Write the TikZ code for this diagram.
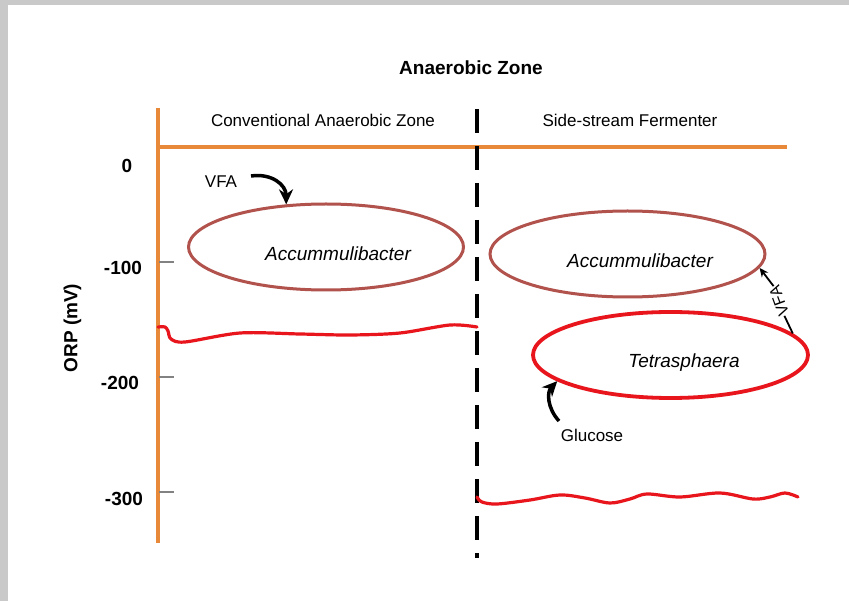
\documentclass[tikz,border=0pt]{standalone}
\usepackage{fontspec}
\setmainfont{Liberation Sans}
\usetikzlibrary{shapes.geometric,arrows.meta}
\definecolor{framegray}{RGB}{200,201,200}
\definecolor{axisorange}{RGB}{232,137,58}
\definecolor{brownred}{RGB}{178,82,76}
\definecolor{brightred}{RGB}{232,22,28}
\definecolor{tickgray}{RGB}{130,130,130}
\newcommand\myfs[1]{\fontsize{#1}{#1}\selectfont}
\tikzset{
  axisline/.style={axisorange, line width=3.2pt},
  tickline/.style={tickgray, line width=1.8pt},
  zoneline/.style={black, line width=3.2pt, dash pattern=on 24pt off 13pt},
  cellA/.style={ellipse, draw=brownred, line width=3pt, minimum width=275pt, minimum height=86pt, inner sep=0pt},
  cellT/.style={ellipse, draw=brightred, line width=3.8pt, minimum width=275pt, minimum height=86pt, inner sep=0pt},
  orpline/.style={brightred, line width=3.2pt, line cap=round, line join=round},
  bigarrow/.style={line width=3.5pt, -{Stealth[length=15pt,width=14pt]}},
  smallarrow/.style={line width=1.8pt, -{Stealth[length=9pt,width=8pt]}},
  lbl/.style={font=\myfs{17}, inner sep=0pt, anchor=base},
  ticklbl/.style={font=\bfseries\myfs{19}, inner sep=0pt, anchor=base},
  celllbl/.style={font=\itshape\myfs{19}, inner sep=0pt, anchor=base},
}
\begin{document}
\begin{tikzpicture}[x=1pt,y=-1pt]
\useasboundingbox (0,0) rectangle (849,601);
\fill[framegray] (0,0) rectangle (849,601);
\fill[white] (8,5) rectangle (849,601);

% title and zone labels
\node[font=\bfseries\myfs{19}, inner sep=0pt, anchor=base] (title) at (471,75) {Anaerobic Zone};
\node[lbl] (conv) at (323,127) {Conventional Anaerobic Zone};
\node[lbl] (side) at (630,127) {Side-stream Fermenter};

% axes
\draw[axisline] (158,108) -- (158,543);
\draw[axisline] (157,147) -- (787,147);
\draw[tickline] (159,262) -- (174,262);
\draw[tickline] (159,377) -- (174,377);
\draw[tickline] (159,492) -- (174,492);
\node[ticklbl] (t0) at (127,173) {0};
\node[ticklbl] (t100) at (123,275) {-100};
\node[ticklbl] (t200) at (120,390) {-200};
\node[ticklbl] (t300) at (124,505) {-300};
\node[font=\bfseries\myfs{19}, inner sep=0pt, rotate=90] (ylab) at (72.5,328) {ORP (mV)};

% zone separator
\draw[zoneline] (477,109) -- (477,558);

% ORP traces
\draw[orpline] plot[smooth, tension=0.5] coordinates {(158,327) (165,327) (168,331) (171,339) (185,342) (240,333) (300,334) (350,335) (400,333) (450,325) (477,327)};
\draw[orpline] plot[smooth, tension=0.55] coordinates {(477,497) (482,502) (497,504) (530,500) (560,495) (585,498) (610,503) (630,499) (647,494) (680,497) (720,493) (753,499) (770,497) (785,493) (798,497)};

% organisms
\node[cellA] (e1) at (326,247) {};
\node[celllbl] (a1) at (338,261) {Accummulibacter};
\node[cellA] (e2) at (627.5,254) {};
\node[celllbl] (a2) at (640,268) {Accummulibacter};
\node[cellT] (e3) at (670.5,355) {};
\node[celllbl] (tet) at (684,368) {Tetrasphaera};

% substrates
\node[lbl] (vfa1) at (221,188) {VFA};
\coordinate (vfa1s) at (251,176);
\draw[bigarrow] (vfa1s) .. controls (272,173) and (286,185) .. (e1.133);

\node[lbl] (glu) at (592,442) {Glucose};
\coordinate (glus) at (559,421);
\draw[bigarrow] (glus) .. controls (547,408) and (547,392) .. (e3.193);

\node[font=\myfs{16}, inner sep=0.5pt, rotate=110] (vfa2) at (779,301) {VFA};
\draw[line width=1.8pt] (e3.10) -- (vfa2.west);
\draw[smallarrow] (vfa2.east) -- (e2.354);
\end{tikzpicture}
\end{document}
